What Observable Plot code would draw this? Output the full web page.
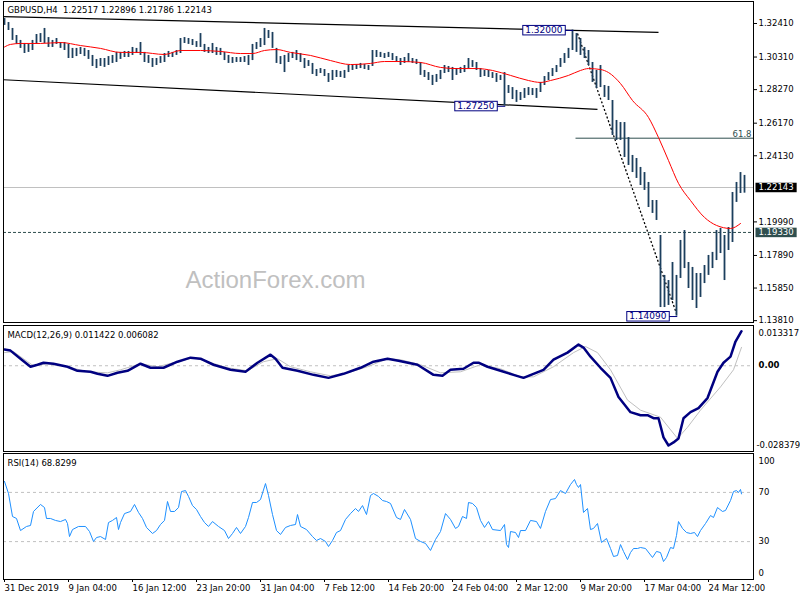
<!DOCTYPE html>
<html><head><meta charset="utf-8">
<script src="https://cdn.jsdelivr.net/npm/d3@7"></script>
<script src="https://cdn.jsdelivr.net/npm/@observablehq/plot@0.6"></script>
<style>
html,body{margin:0;padding:0;background:#fff;}
#wrap{position:relative;width:800px;height:600px;overflow:hidden;background:#fff;}
#wrap svg{position:absolute;left:0;overflow:visible;}
svg text{white-space:pre;}
</style></head><body><div id="wrap"></div>
<script>
// ---------- DATA ----------
const mainTitle = "GBPUSD,H4  1.22517 1.22896 1.21786 1.22143";
const macdTitle = "MACD(12,26,9) 0.011422 0.006082";
const rsiTitle = "RSI(14) 68.8299";
const watermark = "ActionForex.com";

// one bar = 8 hours (two H4 bars) -- high / low prices
const barHigh = [
1.3272,1.3247,1.3210,1.3166,1.3135,1.3116,1.3110,1.3135,1.3172,1.3178,
1.3210,1.3153,1.3135,1.3147,1.3122,1.3122,1.3110,1.3085,1.3085,1.3091,
1.3085,1.3072,1.3041,1.3016,1.3022,1.3022,1.3034,1.3041,1.3060,1.3060,
1.3066,1.3066,1.3091,1.3085,1.3122,1.3060,1.3041,1.3022,1.3022,1.3034,
1.3053,1.3066,1.3060,1.3072,1.3147,1.3153,1.3147,1.3141,1.3128,1.3178,
1.3110,1.3091,1.3116,1.3091,1.3085,1.3060,1.3041,1.3028,1.3028,1.3028,
1.3034,1.3041,1.3110,1.3122,1.3147,1.3210,1.3197,1.3185,1.3085,1.3034,
1.3041,1.3053,1.3060,1.3072,1.3053,1.3022,1.3009,1.2991,1.2953,1.2959,
1.2953,1.2928,1.2947,1.2947,1.2941,1.2947,1.2978,1.2978,1.2984,1.2991,
1.2984,1.2978,1.3072,1.3072,1.3060,1.3053,1.3060,1.3053,1.3034,1.3022,
1.3028,1.3053,1.3022,1.3016,1.2997,1.2947,1.2934,1.2916,1.2922,1.2947,
1.2978,1.2972,1.2966,1.2959,1.2966,1.2978,1.3022,1.3009,1.2997,1.2959,
1.2947,1.2947,1.2934,1.2928,1.2916,1.2934,1.2853,1.2840,1.2822,1.2809,
1.2834,1.2840,1.2834,1.2834,1.2872,1.2909,1.2934,1.2959,1.2978,1.3022,
1.3053,1.3085,1.3200,1.3178,1.3147,1.3091,1.3072,1.2997,1.2947,1.2978,
1.2853,1.2847,1.2759,1.2634,1.2621,1.2621,1.2527,1.2415,1.2396,1.2340,
1.2308,1.2246,1.2133,1.2133,1.1914,1.1664,1.1632,1.1745,1.1664,1.1883,
1.1945,1.1745,1.1714,1.1676,1.1676,1.1726,1.1789,1.1808,1.1945,1.1958,
1.1914,1.1964,1.2183,1.2246,1.2308,1.2290];
const barLow = [
1.3229,1.3197,1.3135,1.3110,1.3085,1.3053,1.3060,1.3072,1.3110,1.3122,
1.3116,1.3091,1.3091,1.3110,1.3085,1.3072,1.3022,1.3022,1.3034,1.3047,
1.3034,1.3016,1.2972,1.2959,1.2972,1.2966,1.2978,1.2991,1.2997,1.3016,
1.3028,1.3028,1.3041,1.3053,1.3041,1.2997,1.2991,1.2966,1.2978,1.2991,
1.2997,1.3028,1.3028,1.3041,1.3053,1.3116,1.3110,1.3103,1.3091,1.3091,
1.3060,1.3053,1.3053,1.3041,1.3041,1.3009,1.2991,1.2991,1.2997,1.2997,
1.2997,1.2978,1.3009,1.3078,1.3091,1.3103,1.3147,1.3085,1.2991,1.2984,
1.2934,1.2997,1.3022,1.3009,1.2997,1.2959,1.2972,1.2922,1.2909,1.2928,
1.2909,1.2872,1.2884,1.2903,1.2903,1.2897,1.2934,1.2947,1.2953,1.2959,
1.2953,1.2947,1.2972,1.3028,1.3028,1.3022,1.3028,1.3009,1.3003,1.2978,
1.2991,1.2997,1.2991,1.2984,1.2916,1.2903,1.2884,1.2853,1.2872,1.2890,
1.2928,1.2934,1.2884,1.2916,1.2928,1.2934,1.2959,1.2966,1.2947,1.2903,
1.2909,1.2903,1.2897,1.2872,1.2884,1.2725,1.2803,1.2765,1.2747,1.2759,
1.2772,1.2790,1.2790,1.2772,1.2809,1.2853,1.2884,1.2909,1.2934,1.2966,
1.2991,1.3022,1.3072,1.3060,1.3041,1.3022,1.2978,1.2872,1.2834,1.2840,
1.2778,1.2759,1.2540,1.2509,1.2509,1.2402,1.2352,1.2308,1.2271,1.2227,
1.2196,1.2089,1.2052,1.2008,1.1463,1.1463,1.1476,1.1507,1.1409,1.1645,
1.1707,1.1582,1.1507,1.1457,1.1526,1.1613,1.1664,1.1707,1.1757,1.1801,
1.1632,1.1820,1.1870,1.2121,1.2177,1.2179];

// moving average (red)
const maIdx = [0,1.5,4,9,14,19,24,29,34,40,44,49,54,59,62,65,68,71.5,76.5,81.5,86.5,91.5,95,99,104,109,113,118,122,126.5,131,134,136.5,141,144,146,149,151,154,157,161,163.5,166,168.5,171.5,175,178,181.5,184];
const maVal = [1.3094,1.3110,1.3116,1.3116,1.3122,1.3103,1.3085,1.3060,1.3060,1.3047,1.3072,1.3072,1.3066,1.3053,1.3053,1.3072,1.3078,1.3060,1.3041,1.3009,1.2984,1.2991,1.3003,1.3003,1.2997,1.2966,1.2959,1.2959,1.2947,1.2916,1.2884,1.2872,1.2884,1.2916,1.2947,1.2959,1.2953,1.2934,1.2865,1.2759,1.2653,1.2527,1.2383,1.2240,1.2133,1.2027,1.1977,1.1958,1.1989];

// MACD main line and signal
const macdIdx = [0,1.5,4,6.5,8.25,9.75,12.25,15.75,18.25,21.5,23.25,25.75,28.25,30.75,34,36.5,39.75,43.25,46.5,49,52.25,56.5,60.25,63.25,66.5,67.75,69.5,73.25,77.25,81,84.75,89,92.25,95.75,98.5,103.25,107.25,109.5,111.5,114.75,117.25,118.5,120.75,124,127.25,129.75,132.25,134.75,137.25,140.75,143.5,144.75,146.5,149,151.5,153.5,156.5,159,160.75,162.25,163.5,164.75,166,167.25,168.5,169.75,171.5,173.5,175.75,178.25,179.75,181.5,182.75,184.25];
const macdVal = [0.00534,0.00501,0.00234,-0.00033,0.00033,0.00100,0.00067,-0.00033,-0.00167,-0.00200,-0.00267,-0.00334,-0.00234,-0.00167,0.00067,-0.00067,-0.00067,0.00134,0.00267,0.00234,0.00033,-0.00134,-0.00200,0.00100,0.00367,0.00234,-0.00067,-0.00167,-0.00301,-0.00401,-0.00267,-0.00067,0.00134,0.00234,0.00167,0.00033,-0.00301,-0.00334,-0.00134,-0.00100,0.00100,0.00100,-0.00033,-0.00167,-0.00301,-0.00401,-0.00267,-0.00134,0.00200,0.00434,0.00701,0.00601,0.00301,-0.00067,-0.00401,-0.01035,-0.01536,-0.01637,-0.01637,-0.01737,-0.01737,-0.02371,-0.02639,-0.02538,-0.02405,-0.01737,-0.01536,-0.01403,-0.01069,-0.00200,0.00100,0.00301,0.00802,0.01142];
const sigIdx = [0,2.25,5.75,7.25,10.75,15.75,20.75,25.75,29,34,38.25,42.25,47.25,50.75,55.75,60.75,64.75,68.25,71.5,76.5,81.5,85.75,90.75,95.75,99,104,109,114,119,124,129,132.25,137.25,142.25,145.25,148.25,151.5,155.75,159,164,168.25,170.75,174,179,182.25,184.25];
const sigVal = [0.00434,0.00468,0.00134,0,0.00067,-0.00033,-0.00200,-0.00234,-0.00134,0.00067,-0.00033,0.00100,0.00267,0.00134,-0.00067,-0.00167,0.00134,0.00234,-0.00033,-0.00200,-0.00334,-0.00234,-0.00033,0.00234,0.00200,0.00033,-0.00234,-0.00200,0.00033,-0.00100,-0.00367,-0.00367,-0.00033,0.00434,0.00635,0.00434,-0.00134,-0.01136,-0.01470,-0.01703,-0.02405,-0.02037,-0.01470,-0.00701,-0.00134,0.00608];
const macdMax = 0.013317, macdMin = -0.028379;

// RSI(14)
const rsiIdx = [0,1,2,3,4,5.5,6.5,7.25,9,10,
10.5,11.5,12.75,14,15.25,15.75,16.25,17,18.5,20.25,
21.25,22.25,23,24,25.25,26,27,28,28.5,29,
30,31.5,32.5,33.5,34.5,35.5,37,38,39,40,
40.75,41.5,42.5,43.5,44.25,45.25,46,47,48,49,
50,51,52,53.5,55,56,57,58,59,60.25,
61,62,63,64,65.25,66,67,68,69,70.25,
71.5,72.75,73.25,74,75.5,77,78,79,80.25,81,
82,83,84,85.25,86.5,87.75,88.5,89.5,90.5,91.5,
92.25,93.5,94.5,95.5,96.5,98,99,100,101.5,102.75,
104,105.25,106.5,107.75,109,110.25,111.5,112.75,113.5,114.5,
115.5,116,117,118,119,120,121,122,124,125,
125.5,126,126.5,127.75,128.5,129,130.25,131.5,133,134,
135.25,136.5,137.75,139,140.25,141.5,142.5,143,143.5,144,
144.75,145.75,146.5,147.25,148.25,149.25,150.5,151.5,152.25,153.25,
154,154.75,155.75,156.5,157.25,158.25,159,160.25,162,163,
164,164.75,165.5,166.5,167.25,168,168.5,169.5,170.5,171.5,
172.5,173.25,174,175.25,176.5,177.25,178.25,179.5,180.25,181.5,
182.25,183,183.5,184,184.25];
const rsiVal = [78.9,69.1,50.4,48.8,39.0,42.3,43.1,54.5,60.2,57.7,
48.8,48.8,47.2,46.3,48.0,44.7,34.1,39.8,42.3,42.3,
38.2,30.1,33.3,34.1,31.7,45.5,47.2,49.6,39.8,45.5,
52.8,54.5,60.2,53.7,48.8,41.5,36.6,39.0,43.9,47.2,
62.6,54.5,54.5,57.7,70.7,71.5,66.7,59.3,56.1,50.4,
45.5,42.3,46.3,42.3,39.0,32.5,36.6,41.5,36.6,42.3,
49.6,61.8,61.8,64.2,77.2,67.5,52.0,39.0,35.8,41.5,
43.1,43.9,52.0,42.3,39.8,34.1,30.9,32.5,30.1,26.0,
30.9,37.4,39.0,48.0,52.8,56.9,54.5,59.3,52.0,67.5,
69.1,66.7,63.4,62.6,61.0,49.6,48.0,56.1,48.0,32.5,
30.1,28.5,22.8,31.7,38.2,52.8,48.0,40.7,42.3,50.4,
48.8,61.8,61.0,57.7,47.2,41.5,46.3,39.8,39.0,43.9,
27.6,25.2,38.2,37.4,33.3,39.0,39.0,47.2,46.3,40.7,
54.5,64.2,65.0,71.5,69.1,76.4,80.5,76.4,74.0,76.4,
53.7,56.9,39.8,40.7,44.7,29.3,32.5,24.4,17.9,18.7,
27.6,22.0,15.4,21.1,24.4,24.4,25.2,24.4,17.1,22.0,
21.1,13.8,17.1,25.2,24.4,35.0,46.3,40.7,37.4,36.6,
37.4,34.1,39.0,44.7,51.2,49.6,57.7,54.5,55.3,63.4,
70.7,71.5,69.9,72.4,68.8];
const rsiLevels = [30, 70];

// annotations
const lastPrice = 1.22143;
const supportLevel = 1.19330;
const fib = [{from: 142.75, to: 187.25, p: 1.2523, label: "61.8"}];
const channelLines = [
  {i1: -0.25, p1: 1.3284, i2: 163.5, p2: 1.3185},
  {i1: -0.25, p1: 1.2889, i2: 148.25, p2: 1.2703}];
const swingLine = [{i1: 143.25, p1: 1.3178, i2: 168, p2: 1.1426}];
const pivots = [{i: 142, p: 1.32000}, {i: 125, p: 1.27250}, {i: 168, p: 1.14090}];

// axes
const priceTicks = [1.32410,1.30310,1.28270,1.26170,1.24130,1.19990,1.17890,1.15850,1.13810];
const rsiTicks = [100, 70, 30, 0];
const timeTickIdx = [0,16,32,48,64,80,96,112,128,144,160,176];
const timeTickLabels = ["31 Dec 2019","9 Jan 04:00","16 Jan 12:00","23 Jan 20:00","31 Jan 04:00","7 Feb 12:00","14 Feb 20:00","24 Feb 04:00","2 Mar 12:00","9 Mar 20:00","17 Mar 04:00","24 Mar 12:00"];

// ---------- BUILD ----------
const bars = barHigh.map((h, i) => ({i, hi: h, lo: barLow[i]}));
const ma = maIdx.map((i, k) => ({i, v: maVal[k]}));
const macd = macdIdx.map((i, k) => ({i, v: macdVal[k]}));
const sig = sigIdx.map((i, k) => ({i, v: sigVal[k]}));
const rsi = rsiIdx.map((i, k) => ({i, v: rsiVal[k]}));

const FONT = "DejaVu Sans";
const W = 800, ML = 3, MR = 47;
const xDomain = [-0.25, 187.25];
const baseStyle = {fontFamily: FONT, fontSize: "8.5px", color: "#000", background: "transparent", overflow: "visible"};
const wrap = document.getElementById("wrap");

const mainPlot = Plot.plot({
  width: W, height: 323, marginLeft: ML, marginRight: MR, marginTop: 1, marginBottom: 1,
  style: baseStyle,
  x: {domain: xDomain, axis: null},
  y: {domain: [1.13693, 1.33787], axis: null},
  marks: [
    Plot.text([watermark], {frameAnchor: "bottom-left", textAnchor: "start", lineAnchor: "bottom", dx: 182, dy: -35, fontFamily: "Liberation Sans", fontSize: 24, fill: "#c0c0c0"}),
    Plot.ruleY([lastPrice], {stroke: "#c0c0c0"}),
    Plot.ruleY([supportLevel], {stroke: "#2f4f4f", strokeDasharray: "3,2"}),
    Plot.link(fib, {x1: "from", x2: "to", y1: "p", y2: "p", stroke: "#2f4f4f"}),
    Plot.text(fib, {x: "to", y: "p", text: "label", textAnchor: "end", lineAnchor: "bottom", dx: -2, dy: -1, fill: "#2f4f4f"}),
    Plot.link(channelLines, {x1: "i1", y1: "p1", x2: "i2", y2: "p2", stroke: "#000", strokeWidth: 1.2}),
    Plot.link(swingLine, {x1: "i1", y1: "p1", x2: "i2", y2: "p2", stroke: "#000", strokeWidth: 1.3, strokeDasharray: "2,2"}),
    Plot.ruleX(bars, {x: "i", y1: "lo", y2: "hi", stroke: "#1c3f5e", strokeWidth: 1.8}),
    Plot.line(ma, {x: "i", y: "v", stroke: "#ff0000", strokeWidth: 1, curve: "monotone-x"}),
    Plot.text([mainTitle], {frameAnchor: "top-left", textAnchor: "start", lineAnchor: "top", dx: 4, dy: 5, fill: "#000"}),
    Plot.text(pivots, {x: "i", y: "p", text: d => d.p.toFixed(5), textAnchor: "end", dx: -10, fill: "#000080", fontSize: 9}),
    Plot.axisY({anchor: "right", ticks: priceTicks, tickFormat: d => d.toFixed(5), tickSize: 3, tickPadding: 2, label: null}),
    Plot.text([lastPrice], {y: d => d, frameAnchor: "right", text: d => d.toFixed(5), textAnchor: "start", dx: 5, fill: "#fff"}),
    Plot.text([supportLevel], {y: d => d, frameAnchor: "right", text: d => d.toFixed(5), textAnchor: "start", dx: 5, fill: "#fff"}),
    Plot.frame({stroke: "#000"})
  ]
});
mainPlot.style.top = "0px";
wrap.appendChild(mainPlot);

const macdPlot = Plot.plot({
  width: W, height: 128, marginLeft: ML, marginRight: MR, marginTop: 1, marginBottom: 1,
  style: baseStyle,
  x: {domain: xDomain, axis: null},
  y: {domain: [macdMin, macdMax], axis: null},
  marks: [
    Plot.ruleY([0], {stroke: "#c0c0c0", strokeDasharray: "3,3"}),
    Plot.line(sig, {x: "i", y: "v", stroke: "#c0c0c0", strokeWidth: 1}),
    Plot.line(macd, {x: "i", y: "v", stroke: "#000080", strokeWidth: 2.5}),
    Plot.axisY({anchor: "right", ticks: [macdMax], tickFormat: d => d.toFixed(6), tickSize: 0, tickPadding: 5, dy: 8, label: null}),
    Plot.axisY({anchor: "right", ticks: [0], tickFormat: d => d.toFixed(2), tickSize: 0, tickPadding: 5, fontWeight: "bold", label: null}),
    Plot.axisY({anchor: "right", ticks: [macdMin], tickFormat: d => d.toFixed(6), tickSize: 0, tickPadding: 3, dy: -6, label: null}),
    Plot.text([macdTitle], {frameAnchor: "top-left", textAnchor: "start", lineAnchor: "top", dx: 4, dy: 6, fill: "#000"}),
    Plot.frame({stroke: "#000"})
  ]
});
macdPlot.style.top = "324px";
wrap.appendChild(macdPlot);

const rsiPlot = Plot.plot({
  width: W, height: 148, marginLeft: ML, marginRight: MR, marginTop: 1, marginBottom: 21,
  style: baseStyle,
  x: {domain: xDomain},
  y: {domain: [-0.81, 101.63], axis: null},
  marks: [
    Plot.ruleY(rsiLevels, {stroke: "#c0c0c0", strokeDasharray: "3,3"}),
    Plot.line(rsi, {x: "i", y: "v", stroke: "#1e90ff", strokeWidth: 1}),
    Plot.axisY({anchor: "right", ticks: [rsiTicks[0]], tickSize: 0, tickPadding: 5, dy: 6, label: null}),
    Plot.axisY({anchor: "right", ticks: rsiTicks.slice(1, 3), tickSize: 0, tickPadding: 5, label: null}),
    Plot.axisY({anchor: "right", ticks: [rsiTicks[3]], tickSize: 0, tickPadding: 5, dy: -5, label: null}),
    Plot.axisX({anchor: "bottom", ticks: timeTickIdx, tickFormat: d => timeTickLabels[timeTickIdx.indexOf(d)], tickSize: 3, tickPadding: 2, textAnchor: "start", dx: 0, label: null}),
    Plot.text([rsiTitle], {frameAnchor: "top-left", textAnchor: "start", lineAnchor: "top", dx: 4, dy: 6, fill: "#000"}),
    Plot.frame({stroke: "#000"})
  ]
});
rsiPlot.style.top = "452px";
wrap.appendChild(rsiPlot);

// boxes behind labels
const NS = "http://www.w3.org/2000/svg";
const pivotTexts = pivots.map(d => d.p.toFixed(5));
mainPlot.querySelectorAll("text").forEach(t => {
  const s = t.textContent;
  let fill = null, stroke = null, conn = 0;
  if (pivotTexts.includes(s)) { fill = "#fff"; stroke = "#000080"; conn = 8; }
  else if (s === lastPrice.toFixed(5)) { fill = "#000"; }
  else if (s === supportLevel.toFixed(5)) { fill = "#2f4f4f"; }
  else return;
  const b = t.getBBox();
  const padX = conn ? 2.5 : 3;
  const r = document.createElementNS(NS, "rect");
  r.setAttribute("x", b.x - padX);
  r.setAttribute("y", b.y + 0.5);
  r.setAttribute("width", b.width + 2 * padX);
  r.setAttribute("height", b.height - 0.5);
  r.setAttribute("fill", fill);
  if (stroke) { r.setAttribute("stroke", stroke); r.setAttribute("stroke-width", 1); }
  const tr = t.getAttribute("transform");
  if (tr) r.setAttribute("transform", tr);
  t.parentNode.insertBefore(r, t);
  if (conn) {
    const l = document.createElementNS(NS, "line");
    const cy = b.y + b.height / 2 + 0.5;
    l.setAttribute("x1", b.x + b.width + padX);
    l.setAttribute("x2", b.x + b.width + padX + conn);
    l.setAttribute("y1", cy);
    l.setAttribute("y2", cy);
    l.setAttribute("stroke", stroke);
    if (tr) l.setAttribute("transform", tr);
    t.parentNode.insertBefore(l, t);
  }
});
</script></body></html>
